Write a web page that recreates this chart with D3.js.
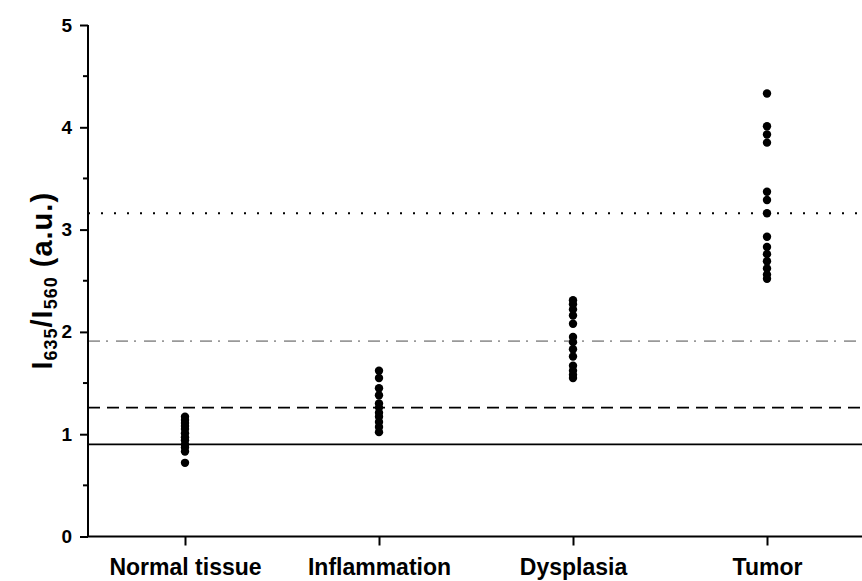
<!DOCTYPE html>
<html>
<head>
<meta charset="utf-8">
<script src="https://cdn.jsdelivr.net/npm/d3@7"></script>
<style>
  body { margin: 0; background: #fff; }
  text { font-family: "Liberation Sans", Arial, sans-serif; font-weight: bold; }
</style>
</head>
<body>
<div id="chart"></div>
<script>
(function() {
  // categories and measured ratios
  var categories = ["Normal tissue", "Inflammation", "Dysplasia", "Tumor"];
  var normal = [1.17, 1.14, 1.11, 1.08, 1.05, 1.01, 0.97, 0.94, 0.90, 0.87, 0.83, 0.72];
  var inflammation = [1.62, 1.55, 1.45, 1.38, 1.30, 1.26, 1.21, 1.17, 1.12, 1.07, 1.02];
  var dysplasia = [2.31, 2.27, 2.22, 2.16, 2.08, 1.95, 1.90, 1.83, 1.76, 1.67, 1.62, 1.58, 1.55];
  var tumor = [4.33, 4.01, 3.93, 3.85, 3.37, 3.29, 3.16, 2.93, 2.83, 2.76, 2.69, 2.62, 2.56, 2.52];
  var seriesValues = [normal, inflammation, dysplasia, tumor];
  // threshold lines
  var thresholds = [0.90, 1.26, 1.91, 3.16];
  var yTicks = [0, 1, 2, 3, 4, 5];
  var yMinorTicks = [0.5, 1.5, 2.5, 3.5, 4.5];

  var width = 862;
  var height = 581;
  var margin = {left: 88, right: -2, top: 25, bottom: 44.5};

  var svg = d3.select("#chart")
    .append("svg")
    .attr("width", width)
    .attr("height", height);

  var x = d3.scaleLinear()
    .domain([0.5, 4.5])
    .range([margin.left, width - margin.right]);
  var y = d3.scaleLinear()
    .domain([0, 5])
    .range([height - margin.bottom, margin.top]);

  // threshold lines
  var lineStyles = [
    {stroke: "#000", dash: null},
    {stroke: "#000", dash: "12,7"},
    {stroke: "#999", dash: "12,6,2,8"},
    {stroke: "#000", dash: "2,11"}
  ];
  svg.append("g").selectAll("line")
    .data(thresholds)
    .enter()
    .append("line")
    .attr("x1", margin.left)
    .attr("x2", width)
    .attr("y1", function(d) { return y(d); })
    .attr("y2", function(d) { return y(d); })
    .attr("stroke", function(d, i) { return lineStyles[i].stroke; })
    .attr("stroke-width", 1.8)
    .attr("stroke-dasharray", function(d, i) { return lineStyles[i].dash; });

  // points
  var pts = [];
  seriesValues.forEach(function(vals, i) {
    vals.forEach(function(v) { pts.push({c: i + 1, v: v}); });
  });
  svg.append("g").selectAll("circle")
    .data(pts)
    .enter()
    .append("circle")
    .attr("cx", function(d) { return x(d.c); })
    .attr("cy", function(d) { return y(d.v); })
    .attr("r", 4.2)
    .attr("fill", "#000");

  // y axis
  var yAxis = svg.append("g")
    .attr("transform", "translate(" + margin.left + ",0)")
    .call(d3.axisLeft(y).tickValues(yTicks).tickSize(8).tickPadding(8).tickFormat(d3.format("d")));
  yAxis.select(".domain").attr("stroke-width", 2).attr("d", "M0," + y(5) + "V" + y(0));
  yAxis.selectAll(".tick line").attr("stroke-width", 2);
  yAxis.selectAll(".tick text").attr("font-size", 19).attr("fill", "#000");
  yAxis.selectAll(".minor")
    .data(yMinorTicks)
    .enter()
    .append("line")
    .attr("x1", -5).attr("x2", 0)
    .attr("y1", function(d) { return y(d); })
    .attr("y2", function(d) { return y(d); })
    .attr("stroke", "#000")
    .attr("stroke-width", 2);

  // x axis
  var xAxis = svg.append("g")
    .attr("transform", "translate(0," + y(0) + ")")
    .call(d3.axisBottom(x).tickValues([1, 2, 3, 4]).tickSize(9)
      .tickFormat(function(d) { return categories[d - 1]; }));
  xAxis.select(".domain").attr("stroke-width", 2).attr("d", "M" + margin.left + ",0H" + width);
  xAxis.selectAll(".tick line").attr("stroke-width", 2);
  xAxis.selectAll(".tick text")
    .attr("font-size", 23)
    .attr("fill", "#000")
    .attr("y", 38)
    .attr("dy", 0);

  // y axis title with subscripts
  var title = svg.append("text")
    .attr("transform", "translate(52," + y(2.5) + ") rotate(-90)")
    .attr("text-anchor", "middle")
    .attr("font-size", 29)
    .attr("letter-spacing", 1);
  title.append("tspan").text("I");
  title.append("tspan").attr("font-size", 18).attr("dy", 5).text("635");
  title.append("tspan").attr("dy", -5).text("/I");
  title.append("tspan").attr("font-size", 18).attr("dy", 5).text("560");
  title.append("tspan").attr("dy", -5).text(" (a.u.)");
})();
</script>
</body>
</html>
